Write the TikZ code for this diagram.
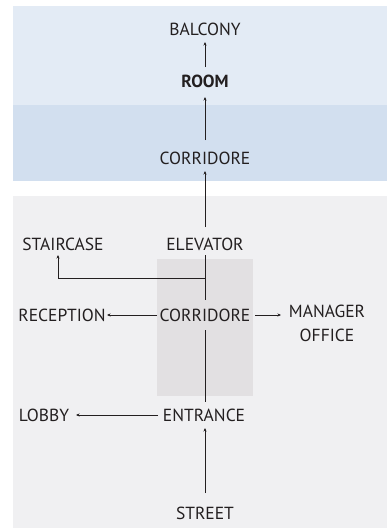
\documentclass[tikz,border=0pt]{standalone}
\usepackage{fontspec}
\setmainfont{PT Sans}
\usetikzlibrary{arrows.meta}
\definecolor{bandA}{HTML}{E3EBF5}
\definecolor{bandB}{HTML}{D2DFEF}
\definecolor{bandG}{HTML}{F0F0F2}
\definecolor{boxG}{HTML}{E2E0E2}
\definecolor{ink}{HTML}{231F20}
\tikzset{
  lbl/.style={inner sep=1pt, text=ink, font=\fontsize{17.5}{24}\selectfont, align=center},
  con/.style={draw=ink, line width=0.8pt},
  arr/.style={con, -{Stealth[length=3.5pt,width=3pt]}},
}
\begin{document}
\begin{tikzpicture}[x=1pt,y=-1pt]
\useasboundingbox (0,0) rectangle (387,530);
\fill[bandA] (13,6) rectangle (387,105);
\fill[bandB] (13,105) rectangle (387,181);
\fill[bandG] (13,196) rectangle (387,528);
\fill[boxG] (157,259) rectangle (253,396);

\node[lbl] (balcony) at (205,29) {BALCONY};
\node[lbl, font=\fontsize{17.5}{24}\selectfont\bfseries] (room) at (205,81) {ROOM};
\node[lbl] (corrT) at (205,158) {CORRIDORE};
\node[lbl] (elev) at (205,244) {ELEVATOR};
\node[lbl] (stair) at (63,244) {STAIRCASE};
\node[lbl] (corrM) at (205,315) {CORRIDORE};
\node[lbl] (recep) at (62,315) {RECEPTION};
\node[lbl] (mgr) at (327,323) {MANAGER\\OFFICE};
\node[lbl] (entr) at (204,415) {ENTRANCE};
\node[lbl] (lobby) at (44,415) {LOBBY};
\node[lbl] (street) at (205,513) {STREET};

\coordinate (j) at (205,278);
\draw[arr] (205,67) -- (205,42);
\draw[arr] (205,140) -- (205,97);
\draw[arr] (205,227) -- (205,171);
\draw[con] (205,255) -- (205,300);
\draw[arr] (j) -- (58,278) -- (58,255);
\draw[arr] (157,315) -- (107,315);
\draw[arr] (255,315) -- (281,315);
\draw[con] (205,330) -- (205,402);
\draw[arr] (158,415) -- (76,415);
\draw[arr] (205,493) -- (205,428);
\end{tikzpicture}
\end{document}
